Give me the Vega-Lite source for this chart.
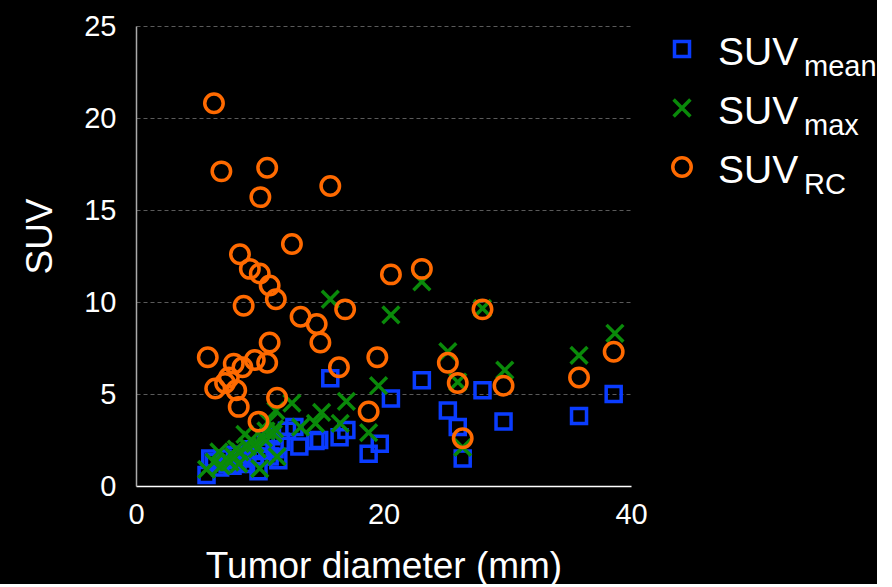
{
  "$schema": "https://vega.github.io/schema/vega-lite/v6.json",
  "background": "black",
  "padding": {"left": 21, "top": 12, "right": 0, "bottom": 0},
  "config": {"view": {"stroke": null}, "concat": {"spacing": 0}, "font": "Liberation Sans"},
  "datasets": {
    "points": [
      {"d": 15.7, "v": 5.85, "s": "mean"}, {"d": 20.6, "v": 4.75, "s": "mean"}, {"d": 23.1, "v": 5.75, "s": "mean"},
      {"d": 28.0, "v": 5.2, "s": "mean"}, {"d": 25.2, "v": 4.1, "s": "mean"}, {"d": 26.0, "v": 3.2, "s": "mean"},
      {"d": 29.7, "v": 3.5, "s": "mean"}, {"d": 35.8, "v": 3.8, "s": "mean"}, {"d": 38.6, "v": 5.0, "s": "mean"},
      {"d": 26.4, "v": 1.5, "s": "mean"}, {"d": 18.8, "v": 1.75, "s": "mean"}, {"d": 19.7, "v": 2.3, "s": "mean"},
      {"d": 17.0, "v": 3.05, "s": "mean"}, {"d": 16.45, "v": 2.65, "s": "mean"}, {"d": 14.8, "v": 2.5, "s": "mean"},
      {"d": 14.5, "v": 2.45, "s": "mean"}, {"d": 13.2, "v": 2.15, "s": "mean"}, {"d": 12.8, "v": 3.2, "s": "mean"},
      {"d": 11.5, "v": 1.4, "s": "mean"}, {"d": 5.7, "v": 0.6, "s": "mean"}, {"d": 6.3, "v": 1.3, "s": "mean"},
      {"d": 6.8, "v": 1.0, "s": "mean"}, {"d": 7.4, "v": 1.2, "s": "mean"}, {"d": 7.8, "v": 1.1, "s": "mean"},
      {"d": 8.2, "v": 1.4, "s": "mean"}, {"d": 8.6, "v": 1.5, "s": "mean"}, {"d": 9.0, "v": 1.7, "s": "mean"},
      {"d": 9.4, "v": 2.0, "s": "mean"}, {"d": 9.9, "v": 0.8, "s": "mean"}, {"d": 10.2, "v": 1.9, "s": "mean"},
      {"d": 10.5, "v": 2.3, "s": "mean"}, {"d": 10.9, "v": 2.7, "s": "mean"}, {"d": 11.2, "v": 2.0, "s": "mean"},
      {"d": 7.0, "v": 1.5, "s": "mean"}, {"d": 8.0, "v": 1.7, "s": "mean"}, {"d": 9.6, "v": 1.6, "s": "mean"},
      {"d": 10.8, "v": 1.6, "s": "mean"}, {"d": 6.0, "v": 1.5, "s": "mean"}, {"d": 11.7, "v": 2.4, "s": "mean"},
      {"d": 12.2, "v": 3.0, "s": "mean"}, {"d": 8.9, "v": 1.2, "s": "mean"},
      {"d": 5.7, "v": 0.9, "s": "max"}, {"d": 6.3, "v": 1.3, "s": "max"}, {"d": 6.7, "v": 1.85, "s": "max"},
      {"d": 6.9, "v": 1.1, "s": "max"}, {"d": 7.3, "v": 1.5, "s": "max"}, {"d": 7.6, "v": 1.3, "s": "max"},
      {"d": 7.9, "v": 1.6, "s": "max"}, {"d": 8.1, "v": 2.0, "s": "max"}, {"d": 8.3, "v": 1.2, "s": "max"},
      {"d": 8.4, "v": 1.85, "s": "max"}, {"d": 8.8, "v": 2.8, "s": "max"}, {"d": 9.0, "v": 2.15, "s": "max"},
      {"d": 9.3, "v": 2.5, "s": "max"}, {"d": 9.6, "v": 2.3, "s": "max"}, {"d": 9.8, "v": 2.0, "s": "max"},
      {"d": 10.0, "v": 0.95, "s": "max"}, {"d": 10.3, "v": 2.6, "s": "max"}, {"d": 10.5, "v": 3.0, "s": "max"},
      {"d": 10.7, "v": 3.5, "s": "max"}, {"d": 11.1, "v": 2.85, "s": "max"}, {"d": 11.2, "v": 3.1, "s": "max"},
      {"d": 11.4, "v": 1.6, "s": "max"}, {"d": 15.7, "v": 10.15, "s": "max"}, {"d": 20.6, "v": 9.3, "s": "max"},
      {"d": 23.1, "v": 11.1, "s": "max"}, {"d": 28.0, "v": 9.65, "s": "max"}, {"d": 25.2, "v": 7.3, "s": "max"},
      {"d": 26.0, "v": 5.65, "s": "max"}, {"d": 29.8, "v": 6.3, "s": "max"}, {"d": 35.8, "v": 7.1, "s": "max"},
      {"d": 38.7, "v": 8.3, "s": "max"}, {"d": 19.6, "v": 5.45, "s": "max"}, {"d": 17.0, "v": 4.6, "s": "max"},
      {"d": 18.8, "v": 2.9, "s": "max"}, {"d": 26.4, "v": 2.1, "s": "max"}, {"d": 15.0, "v": 4.0, "s": "max"},
      {"d": 14.5, "v": 3.4, "s": "max"}, {"d": 16.5, "v": 3.4, "s": "max"}, {"d": 13.3, "v": 3.2, "s": "max"},
      {"d": 12.6, "v": 4.5, "s": "max"}, {"d": 11.3, "v": 4.1, "s": "max"},
      {"d": 6.3, "v": 20.8, "s": "RC"}, {"d": 6.9, "v": 17.1, "s": "RC"}, {"d": 10.6, "v": 17.3, "s": "RC"},
      {"d": 10.05, "v": 15.7, "s": "RC"}, {"d": 15.7, "v": 16.3, "s": "RC"}, {"d": 12.6, "v": 13.15, "s": "RC"},
      {"d": 8.4, "v": 12.6, "s": "RC"}, {"d": 9.2, "v": 11.8, "s": "RC"}, {"d": 10.0, "v": 11.55, "s": "RC"},
      {"d": 10.8, "v": 10.9, "s": "RC"}, {"d": 11.3, "v": 10.15, "s": "RC"}, {"d": 8.7, "v": 9.8, "s": "RC"},
      {"d": 20.6, "v": 11.5, "s": "RC"}, {"d": 23.1, "v": 11.8, "s": "RC"}, {"d": 28.0, "v": 9.6, "s": "RC"},
      {"d": 16.9, "v": 9.6, "s": "RC"}, {"d": 13.3, "v": 9.2, "s": "RC"}, {"d": 14.6, "v": 8.8, "s": "RC"},
      {"d": 14.9, "v": 7.8, "s": "RC"}, {"d": 10.8, "v": 7.8, "s": "RC"}, {"d": 5.8, "v": 7.0, "s": "RC"},
      {"d": 7.9, "v": 6.65, "s": "RC"}, {"d": 8.6, "v": 6.45, "s": "RC"}, {"d": 9.6, "v": 6.85, "s": "RC"},
      {"d": 10.6, "v": 6.7, "s": "RC"}, {"d": 7.5, "v": 5.9, "s": "RC"}, {"d": 7.2, "v": 5.6, "s": "RC"},
      {"d": 6.4, "v": 5.3, "s": "RC"}, {"d": 8.1, "v": 5.2, "s": "RC"}, {"d": 8.3, "v": 4.3, "s": "RC"},
      {"d": 11.4, "v": 4.8, "s": "RC"}, {"d": 9.9, "v": 3.5, "s": "RC"}, {"d": 25.2, "v": 6.7, "s": "RC"},
      {"d": 19.5, "v": 7.0, "s": "RC"}, {"d": 16.4, "v": 6.45, "s": "RC"}, {"d": 26.0, "v": 5.6, "s": "RC"},
      {"d": 29.7, "v": 5.45, "s": "RC"}, {"d": 35.8, "v": 5.9, "s": "RC"}, {"d": 38.6, "v": 7.3, "s": "RC"},
      {"d": 18.8, "v": 4.05, "s": "RC"}, {"d": 26.4, "v": 2.6, "s": "RC"}
    ],
    "legend": [
      {"s": "mean", "base": "SUV", "sub": "mean"},
      {"s": "max", "base": "SUV", "sub": "max"},
      {"s": "RC", "base": "SUV", "sub": "RC"}
    ]
  },
  "hconcat": [
    {
      "width": 495,
      "height": 460,
      "data": {"name": "points"},
      "mark": {"type": "point", "filled": false, "strokeWidth": 3.5, "opacity": 1},
      "encoding": {
        "x": {
          "field": "d", "type": "quantitative",
          "scale": {"domain": [0, 40], "nice": false},
          "axis": {
            "title": "Tumor diameter (mm)", "values": [0, 20, 40], "grid": false, "ticks": false,
            "labelFontSize": 29, "labelColor": "white", "labelPadding": 14, "labelFlush": false,
            "titleFontSize": 37, "titleFontWeight": "normal", "titleColor": "white", "titlePadding": 19,
            "domainColor": "white", "domainWidth": 1.5
          }
        },
        "y": {
          "field": "v", "type": "quantitative",
          "scale": {"domain": [0, 25], "nice": false},
          "axis": {
            "title": "SUV", "values": [0, 5, 10, 15, 20, 25], "grid": true, "gridColor": "#5a5a5a",
            "gridDash": [4, 3], "gridWidth": 1, "ticks": false,
            "labelFontSize": 29, "labelColor": "white", "labelPadding": 20, "labelFlush": false,
            "titleFontSize": 37, "titleFontWeight": "normal", "titleColor": "white", "titlePadding": 24, "titleY": 210,
            "domainColor": "#aaaaaa", "domainWidth": 1.5
          }
        },
        "color": {"field": "s", "type": "nominal", "scale": {"domain": ["mean", "max", "RC"], "range": ["#0a3cff", "#0a8a0a", "#ff6a00"]}, "legend": null},
        "shape": {"field": "s", "type": "nominal", "scale": {"domain": ["mean", "max", "RC"], "range": ["square", "M-1,-1L1,1M-1,1L1,-1", "circle"]}, "legend": null},
        "size": {"field": "s", "type": "nominal", "scale": {"domain": ["mean", "max", "RC"], "range": [225, 340, 240]}, "legend": null}
      }
    },
    {
      "width": 68,
      "height": 164,
      "data": {"name": "legend"},
      "encoding": {
        "y": {"field": "s", "type": "nominal", "scale": {"type": "point", "domain": ["mean", "max", "RC"], "padding": 0.39}, "axis": null}
      },
      "layer": [
        {
          "mark": {"type": "point", "filled": false, "strokeWidth": 3.5, "opacity": 1},
          "encoding": {
            "color": {"field": "s", "type": "nominal", "scale": {"domain": ["mean", "max", "RC"], "range": ["#0a3cff", "#0a8a0a", "#ff6a00"]}, "legend": null},
            "shape": {"field": "s", "type": "nominal", "scale": {"domain": ["mean", "max", "RC"], "range": ["square", "M-1,-1L1,1M-1,1L1,-1", "circle"]}, "legend": null},
            "size": {"field": "s", "type": "nominal", "scale": {"domain": ["mean", "max", "RC"], "range": [200, 340, 210]}, "legend": null}
          }
        },
        {
          "mark": {"type": "text", "fontSize": 39, "color": "white", "align": "left", "baseline": "alphabetic", "dx": 36, "dy": 16},
          "encoding": {"text": {"field": "base"}}
        },
        {
          "mark": {"type": "text", "fontSize": 29, "color": "white", "align": "left", "baseline": "alphabetic", "dx": 122, "dy": 27},
          "encoding": {"text": {"field": "sub"}}
        }
      ]
    }
  ]
}
